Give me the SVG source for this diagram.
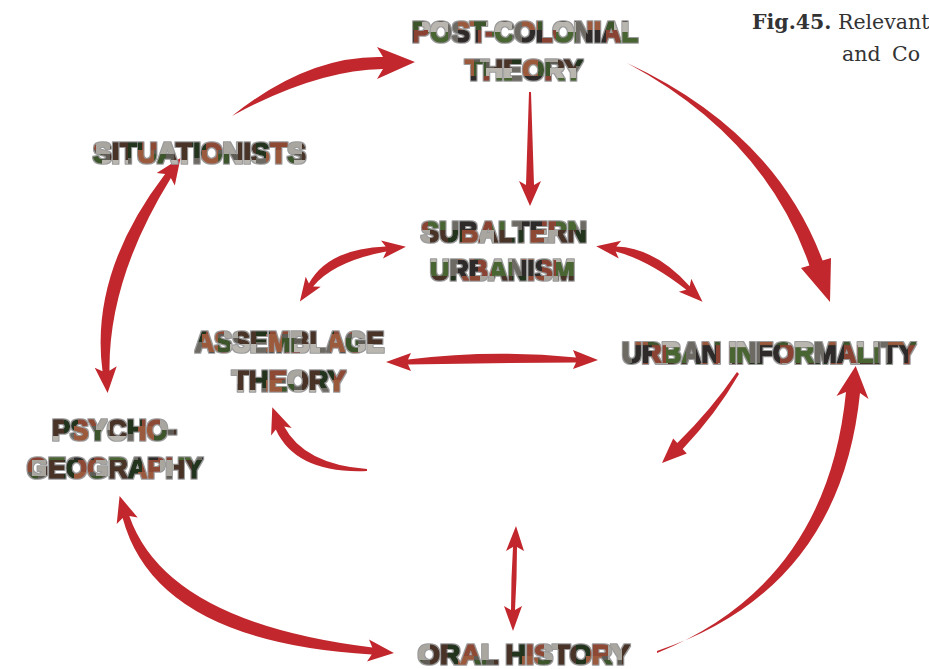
<svg xmlns="http://www.w3.org/2000/svg" width="929" height="669" viewBox="0 0 929 669">
  <defs>
    <!-- photographic mosaic used to fill the heavy labels -->
    <pattern id="photo" patternUnits="userSpaceOnUse" width="64" height="46">
      <rect width="64" height="46" fill="#5f5b55"/>
      <rect x="0" y="0" width="14" height="20" fill="#22341f"/>
      <rect x="14" y="0" width="18" height="12" fill="#8e4a36"/>
      <rect x="32" y="0" width="14" height="16" fill="#a9a6a0"/>
      <rect x="46" y="0" width="18" height="22" fill="#4a3328"/>
      <rect x="0" y="20" width="10" height="26" fill="#6d6963"/>
      <rect x="10" y="12" width="16" height="18" fill="#9c5a3e"/>
      <rect x="26" y="16" width="12" height="14" fill="#3d5529"/>
      <rect x="38" y="22" width="26" height="10" fill="#b9b6b0"/>
      <rect x="10" y="30" width="20" height="16" fill="#2e2c29"/>
      <rect x="30" y="30" width="14" height="16" fill="#8a4231"/>
      <rect x="44" y="32" width="20" height="14" fill="#4a6530"/>
    </pattern>
    <!-- thin grey rim around the heavy labels -->
    <filter id="rim" x="-5%" y="-20%" width="110%" height="140%">
      <feMorphology in="SourceAlpha" operator="dilate" radius="1" result="fat"/>
      <feFlood flood-color="#9a9a9a"/>
      <feComposite in2="fat" operator="in" result="edge"/>
      <feMerge>
        <feMergeNode in="edge"/>
        <feMergeNode in="SourceGraphic"/>
      </feMerge>
    </filter>
    <style>
      .lbl { font-family: "Liberation Sans", Arial, sans-serif; font-weight: bold; font-size: 30px;
             fill: url(#photo); stroke: url(#photo); stroke-width: 1.6px; stroke-linejoin: round;
             filter: url(#rim); }
      .arr { fill: #c1272d; }
      .cap { font-family: "DejaVu Serif", "Liberation Serif", serif; font-size: 20.5px; fill: #333333; }
    </style>
  </defs>

  <rect width="929" height="669" fill="#ffffff"/>

  <!-- caption -->
  <g id="caption">
    <text class="cap" x="752" y="29" font-weight="bold">Fig.45.</text>
    <text class="cap" x="838" y="29">Relevant</text>
    <text class="cap" x="842" y="61">and</text>
    <text class="cap" x="892" y="61">Co</text>
  </g>

  <!-- connectors -->
  <g id="connectors">
    <!-- Situationists to Post-colonial theory -->
    <path class="arr" d="M232,116 Q308,55 383,57 L377,47 L415,62 L377,79 L383,69 Q316,70 232,116 Z"/>
    <!-- Post-colonial theory to Urban informality -->
    <path class="arr" d="M627,63 Q774,131 822.6,260.6 L831,258 L830,302 L801,268 L809.4,265.4 Q765,137 627,63 Z"/>
    <!-- Post-colonial theory to Subaltern urbanism -->
    <path class="arr" d="M529,92 L531,92 L534,185 L541,181 L530,206 L519,181 L526,185 Z"/>
    <!-- Subaltern urbanism / Assemblage theory -->
    <path class="arr" d="M385.7,246.5 Q328,248.7 308.9,283.6 L305.7,276.7 L299.9,301.6 L320.7,286.7 L313.1,286.4 Q334,261.3 386.3,251.5 L383,258.4 L405.9,246.8 L381,240.5 Z"/>
    <!-- Subaltern urbanism / Urban informality -->
    <path class="arr" d="M615.65,251.5 Q648.7,260.2 686.3,289.8 L678.9,291.8 L702.5,301.7 L691.3,278.8 L689.7,286.2 Q655.3,247.9 616.35,246.5 L621.2,240.7 L596.2,246.2 L618.8,258.5 Z"/>
    <!-- Assemblage theory / Urban informality -->
    <path class="arr" d="M408,359.5 Q492,349 576,357.5 L573,350 L598,360 L573,369 L576,362.5 Q492,363 408,364.5 L411,371 L386,362 L411,353 Z"/>
    <!-- Urban informality, downward -->
    <path class="arr" d="M737,372 L739,374 Q716,414 682.7,449 L686.8,453.4 L662,463 L673.2,438.6 L677.3,443 Q711,410 737,372 Z"/>
    <!-- return curve to Assemblage theory -->
    <path class="arr" d="M367,469 L367,471 Q296,474 275.8,429.6 L271.1,435.6 L272.3,407.3 L291.7,428 L284.2,426.4 Q304,464 367,469 Z"/>
    <!-- Situationists / Psycho-geography -->
    <path class="arr" d="M170.9,178 Q108.5,279 109.5,370.7 L116.7,366.2 L107.6,392.9 L94.7,367.8 L102.5,371.3 Q89.5,273 165.1,174 L156.7,173.1 L180.5,157.9 L174.8,185.6 Z"/>
    <!-- Psycho-geography / Oral history -->
    <path class="arr" d="M122.65,518 Q155.7,641.7 371.7,654.5 L367,661.6 L393.9,653 L369,639.6 L372.3,647.5 Q166.3,622.3 129.35,516 L137.7,517.6 L119.6,496 L116.7,524 Z"/>
    <!-- Oral history, vertical -->
    <path class="arr" d="M517,547 Q517,578 515,610 L522,606 L513,631 L504,606 L511,610 Q511,578 513,547 L506,551 L516,526 L524,551 Z"/>
    <!-- Oral history to Urban informality -->
    <path class="arr" d="M657,651 Q840,590 860,393 L868.5,399 L855.7,366 L836.5,396 L846,392 Q827,584 657,653 Z"/>
  </g>

  <!-- nodes -->
  <g id="post-colonial-theory">
    <text class="lbl" x="412" y="41.5" textLength="226" lengthAdjust="spacingAndGlyphs">POST-COLONIAL</text>
    <text class="lbl" x="465" y="80" textLength="118" lengthAdjust="spacingAndGlyphs">THEORY</text>
  </g>
  <g id="situationists">
    <text class="lbl" x="93" y="162.5" textLength="213" lengthAdjust="spacingAndGlyphs">SITUATIONISTS</text>
  </g>
  <g id="subaltern-urbanism">
    <text class="lbl" x="421" y="241.5" textLength="166" lengthAdjust="spacingAndGlyphs">SUBALTERN</text>
    <text class="lbl" x="430" y="280" textLength="145" lengthAdjust="spacingAndGlyphs">URBANISM</text>
  </g>
  <g id="assemblage-theory">
    <text class="lbl" x="195" y="351.5" textLength="189" lengthAdjust="spacingAndGlyphs">ASSEMBLAGE</text>
    <text class="lbl" x="232" y="390.5" textLength="114" lengthAdjust="spacingAndGlyphs">THEORY</text>
  </g>
  <g id="urban-informality">
    <!-- set slightly smaller and stretched upright so the wide label keeps clear of the right edge -->
    <text class="lbl" transform="translate(622,363) scale(1,1.12)" x="0" y="0" textLength="294" lengthAdjust="spacingAndGlyphs" style="font-size:27px">URBAN INFORMALITY</text>
  </g>
  <g id="psycho-geography">
    <text class="lbl" x="52" y="440" textLength="125" lengthAdjust="spacingAndGlyphs">PSYCHO-</text>
    <text class="lbl" x="27" y="478" textLength="176" lengthAdjust="spacingAndGlyphs">GEOGRAPHY</text>
  </g>
  <g id="oral-history">
    <text class="lbl" x="418" y="664" textLength="212" lengthAdjust="spacingAndGlyphs" style="font-size:28px">ORAL HISTORY</text>
  </g>
</svg>
